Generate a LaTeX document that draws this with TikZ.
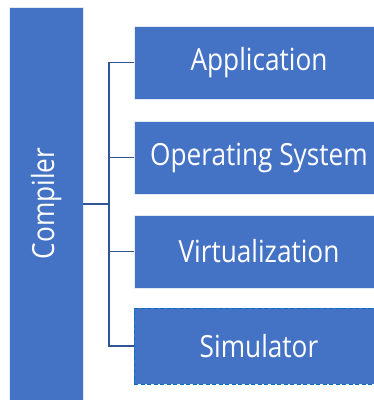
\documentclass[tikz,border=0pt]{standalone}
\usepackage{fontspec}
\newfontfamily\boxfont[FakeStretch=0.86]{Open Sans}
\definecolor{boxblue}{HTML}{4472C4}
\definecolor{linkblue}{HTML}{2F5597}
\definecolor{dashblue}{HTML}{0070C0}
\begin{document}
\begin{tikzpicture}[x=1pt,y=1pt,
  blk/.style={rectangle, fill=boxblue, draw=white!85!boxblue, line width=0.8pt, text=white, font=\boxfont\fontsize{30.5}{36}\selectfont, inner sep=0pt},
  item/.style={blk, minimum width=250pt, minimum height=73pt},
  link/.style={draw=linkblue, line width=1.1pt}]
\useasboundingbox (0,0) rectangle (374,-400);
\node[blk, minimum width=73.5pt, minimum height=393pt] (comp) at (46.25,-203.5) {\rotatebox{90}{Compiler}};
\node[item] (app) at (259,-62.5) {Application};
\node[item] (os) at (259,-157.5) {Operating System};
\node[item] (virt) at (259,-251.5) {Virtualization};
\node[item, draw=dashblue, dash pattern=on 4pt off 2.5pt, minimum height=76pt] (sim) at (259,-346) {Simulator};
\coordinate (hub) at (109,-204);
\draw[link] (comp.east |- hub) -- (hub);
\draw[link] (app.west) -| (hub) |- (sim.west);
\draw[link] (os.west) -- (os.west -| hub);
\draw[link] (virt.west) -- (virt.west -| hub);
\end{tikzpicture}
\end{document}
